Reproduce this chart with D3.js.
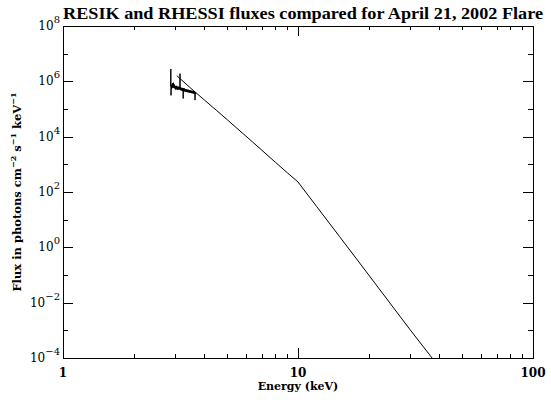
<!DOCTYPE html>
<html>
<head>
<meta charset="utf-8">
<script src="https://cdn.jsdelivr.net/npm/d3@7"></script>
<style>
  body { margin: 0; background: #fff; }
  text { font-family: "DejaVu Serif", serif; fill: #000; }
</style>
</head>
<body>
<div id="chart"></div>
<script>
// chart text
const title = "RESIK and RHESSI fluxes compared for April 21, 2002 Flare"
const xTitle = "Energy (keV)"

// axis ticks
const xMajor = [1, 10, 100]
const xMinor = [2, 3, 4, 5, 6, 7, 8, 9, 20, 30, 40, 50, 60, 70, 80, 90]
const yMajorExp = [-4, -2, 0, 2, 4, 6, 8]
const yMinorExp = [-3, -1, 1, 3, 5, 7]

// RHESSI model spectrum (keV, photons cm^-2 s^-1 keV^-1)
const rhessiEnergy = [3.05, 3.5, 4.0, 4.5, 5.0, 5.5, 6.0, 7.0, 8.0, 9.0, 10.0, 12.0, 15.0, 20.0, 30.0, 37.2]
const rhessiFlux = [1.6e6, 5.6e5, 2.1e5, 8.9e4, 4.1e4, 2.0e4, 1.05e4, 3.3e3, 1.2e3, 500, 230, 30, 2.5, 0.1, 1.05e-3, 1.0e-4]

// RESIK measured spectrum
const resikEnergy = [2.870, 2.876, 2.882, 2.890, 2.900, 2.910, 2.920, 2.930, 2.940, 2.950,
    2.960, 2.970, 2.980, 2.990, 3.000, 3.010, 3.020, 3.030, 3.040, 3.050,
    3.060, 3.070, 3.080, 3.090, 3.100, 3.110, 3.120, 3.130, 3.140, 3.147,
    3.155, 3.160, 3.170, 3.180, 3.190, 3.200, 3.210, 3.220, 3.230, 3.240,
    3.247, 3.255, 3.260, 3.270, 3.280, 3.290, 3.300, 3.310, 3.320, 3.330,
    3.340, 3.350, 3.360, 3.370, 3.380, 3.390, 3.400, 3.410, 3.420, 3.430,
    3.440, 3.450, 3.460, 3.470, 3.480, 3.490, 3.500, 3.510, 3.520, 3.530,
    3.540, 3.550, 3.560, 3.570, 3.580, 3.590, 3.600, 3.610, 3.620, 3.630,
    3.640, 3.646, 3.655, 3.665, 3.670]
const resikFlux = [6.6e5, 2.8e6, 3.1e5, 7.2e5, 5.4e5, 7.8e5, 5.9e5, 8.7e5, 6.1e5, 8.9e5,
    5.7e5, 7.9e5, 5.8e5, 7.0e5, 5.3e5, 6.8e5, 5.0e5, 6.6e5, 5.4e5, 6.9e5,
    5.1e5, 6.2e5, 4.9e5, 6.5e5, 5.2e5, 6.3e5, 5.0e5, 6.1e5, 5.3e5, 1.9e6,
    5.0e5, 6.0e5, 4.8e5, 5.9e5, 4.7e5, 5.7e5, 4.6e5, 5.8e5, 4.5e5, 5.5e5,
    2.4e5, 5.6e5, 4.4e5, 5.4e5, 4.3e5, 5.5e5, 4.4e5, 5.3e5, 4.2e5, 5.2e5,
    4.3e5, 5.1e5, 4.1e5, 5.0e5, 4.2e5, 4.9e5, 4.0e5, 5.0e5, 4.1e5, 4.8e5,
    3.9e5, 4.7e5, 4.0e5, 4.8e5, 3.8e5, 4.6e5, 3.9e5, 4.5e5, 3.8e5, 4.6e5,
    3.7e5, 4.4e5, 3.8e5, 4.5e5, 3.6e5, 4.3e5, 3.7e5, 4.4e5, 3.6e5, 4.2e5,
    3.7e5, 2.1e5, 4.1e5, 3.6e5, 3.9e5]

const W = 551, H = 400
const margin = { top: 26, right: 18, bottom: 42, left: 63 }
const width = W - margin.left - margin.right
const height = H - margin.top - margin.bottom

const svg = d3.select('#chart').append('svg')
    .attr('width', W)
    .attr('height', H)

const g = svg.append('g')
    .attr('transform', `translate(${margin.left}, ${margin.top})`)

const xScale = d3.scaleLog().domain([1, 100]).range([0, width])
const yScale = d3.scaleLog().domain([1e-4, 1e8]).range([height, 0])

// axes: major + minor ticks on all four sides
const axisGroup = g.append('g').attr('id', 'axisGroup')
const addAxis = (axis, values, size, transform) => {
    const a = axisGroup.append('g')
        .attr('transform', transform)
        .call(axis.tickValues(values).tickSize(size).tickSizeOuter(0).tickFormat(''))
    a.selectAll('path, line').attr('stroke', '#000').attr('shape-rendering', 'crispEdges')
}
addAxis(d3.axisTop(xScale), xMajor, 10, `translate(0, ${height})`)
addAxis(d3.axisTop(xScale), xMinor, 4, `translate(0, ${height})`)
addAxis(d3.axisBottom(xScale), xMajor, 10, 'translate(0, 0)')
addAxis(d3.axisBottom(xScale), xMinor, 4, 'translate(0, 0)')
addAxis(d3.axisRight(yScale), yMajorExp.map(e => Math.pow(10, e)), 10, 'translate(0, 0)')
addAxis(d3.axisRight(yScale), yMinorExp.map(e => Math.pow(10, e)), 5, 'translate(0, 0)')
addAxis(d3.axisLeft(yScale), yMajorExp.map(e => Math.pow(10, e)), 10, `translate(${width}, 0)`)
addAxis(d3.axisLeft(yScale), yMinorExp.map(e => Math.pow(10, e)), 5, `translate(${width}, 0)`)

// x tick labels
axisGroup.selectAll('.xlab')
    .data(xMajor)
    .enter()
    .append('text')
    .attr('class', 'xlab')
    .attr('x', d => xScale(d))
    .attr('y', height + 19)
    .attr('text-anchor', 'middle')
    .style('font-size', '12px')
    .style('font-weight', 'bold')
    .text(d => d)

// y tick labels, 10 with superscript exponent
const ylab = axisGroup.selectAll('.ylab')
    .data(yMajorExp)
    .enter()
    .append('text')
    .attr('class', 'ylab')
    .attr('x', -3)
    .attr('y', d => yScale(Math.pow(10, d)) + 4)
    .attr('text-anchor', 'end')
    .style('font-size', '12px')
ylab.append('tspan').text('10')
ylab.append('tspan')
    .attr('dy', -7)
    .style('font-size', '10px')
    .text(d => d < 0 ? '\u2212' + Math.abs(d) : d)

// titles
svg.append('text')
    .attr('x', 303)
    .attr('y', 19)
    .attr('text-anchor', 'middle')
    .attr('textLength', 480)
    .attr('lengthAdjust', 'spacingAndGlyphs')
    .style('font-family', '"Liberation Serif", serif')
    .style('font-size', '16px')
    .style('font-weight', 'bold')
    .text(title)

svg.append('text')
    .attr('x', margin.left + width / 2)
    .attr('y', 390)
    .attr('text-anchor', 'middle')
    .style('font-size', '11px')
    .style('font-weight', 'bold')
    .text(xTitle)

const yt = svg.append('text')
    .attr('transform', `translate(21, ${margin.top + height / 2}) rotate(-90)`)
    .attr('text-anchor', 'middle')
    .style('font-size', '11.5px')
    .style('font-weight', 'bold')
yt.append('tspan').text('Flux in photons cm')
yt.append('tspan').attr('dy', -5).style('font-size', '8px').text('\u22122')
yt.append('tspan').attr('dy', 5).text(' s')
yt.append('tspan').attr('dy', -5).style('font-size', '8px').text('\u22121')
yt.append('tspan').attr('dy', 5).text(' keV')
yt.append('tspan').attr('dy', -5).style('font-size', '8px').text('\u22121')

// data lines
const line = d3.line()
    .x(d => xScale(d[0]))
    .y(d => yScale(d[1]))

const elementGroup = g.append('g').attr('id', 'elementGroup')

elementGroup.append('path')
    .datum(rhessiEnergy.map((e, i) => [e, rhessiFlux[i]]))
    .attr('fill', 'none')
    .attr('stroke', '#000')
    .attr('stroke-width', 1)
    .attr('d', line)

elementGroup.append('path')
    .datum(resikEnergy.map((e, i) => [e, resikFlux[i]]))
    .attr('fill', 'none')
    .attr('stroke', '#000')
    .attr('stroke-width', 1)
    .attr('d', line)
</script>
</body>
</html>
